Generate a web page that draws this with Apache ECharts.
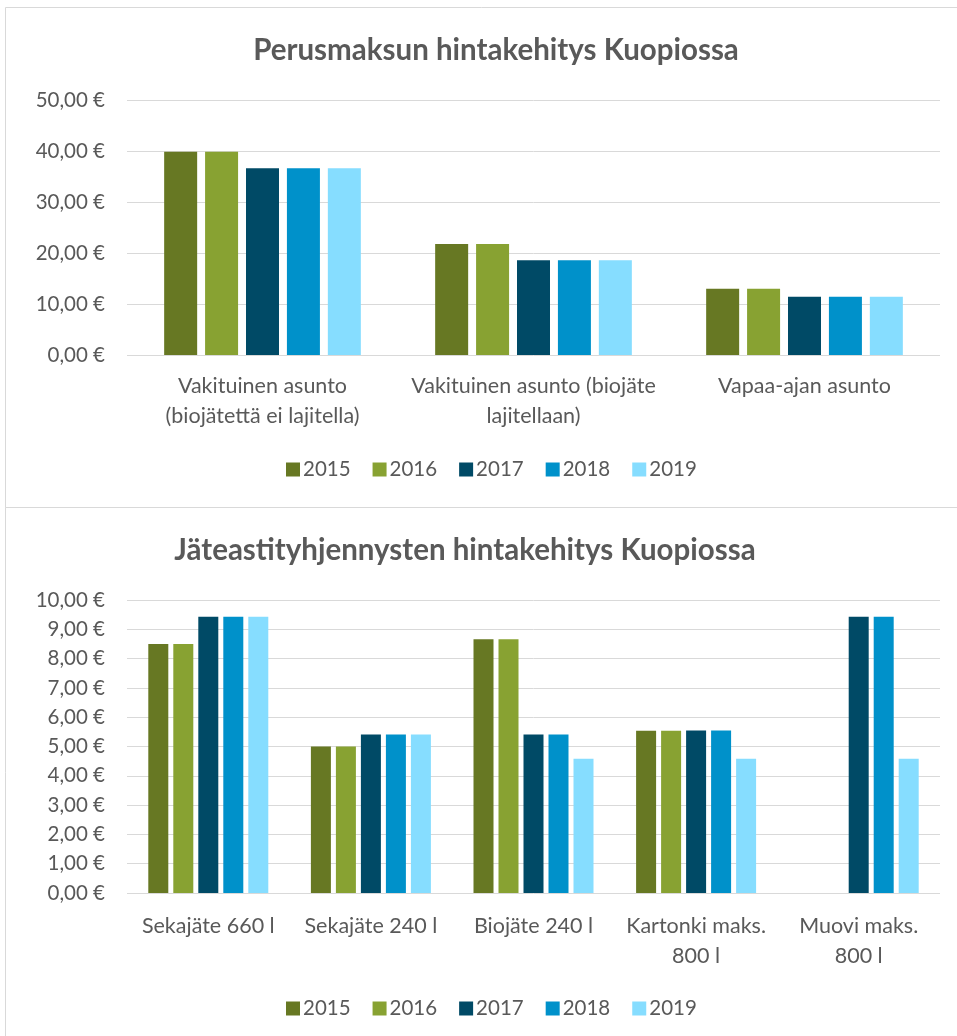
<!DOCTYPE html>
<html><head><meta charset="utf-8">
<script src="https://cdn.jsdelivr.net/npm/echarts@6/dist/echarts.min.js"></script>
<style>html,body{margin:0;padding:0;background:#fff}#c{width:957px;height:1036px}</style>
</head><body><div id="c"></div>
<script>
const years = ['2015','2016','2017','2018','2019'];
const colors = ['#677823','#88A232','#004A66','#0091CA','#86DDFF'];

const cats1 = ['Vakituinen asunto\n(biojätettä ei lajitella)', 'Vakituinen asunto (biojäte\nlajitellaan)', 'Vapaa-ajan asunto'];
const v1_2015 = [39.84, 21.76, 13.0];
const v1_2016 = [39.84, 21.76, 13.0];
const v1_2017 = [36.6, 18.6, 11.4];
const v1_2018 = [36.6, 18.6, 11.4];
const v1_2019 = [36.6, 18.6, 11.4];

const cats2 = ['Sekajäte 660 l', 'Sekajäte 240 l', 'Biojäte 240 l', 'Kartonki maks.\n800 l', 'Muovi maks.\n800 l'];
const v2_2015 = [8.50, 5.00, 8.66, 5.54, null];
const v2_2016 = [8.50, 5.00, 8.66, 5.54, null];
const v2_2017 = [9.43, 5.41, 5.41, 5.55, 9.43];
const v2_2018 = [9.43, 5.41, 5.41, 5.55, 9.43];
const v2_2019 = [9.43, 5.41, 4.58, 4.58, 4.58];

const title1 = 'Perusmaksun hintakehitys Kuopiossa';
const title2 = 'Jäteastityhjennysten hintakehitys Kuopiossa';

const FONT = 'Lato';
const TXT = '#595959';
const fmt = v => v.toFixed(2).replace('.', ',') + ' €';

const d1 = [v1_2015, v1_2016, v1_2017, v1_2018, v1_2019];
const d2 = [v2_2015, v2_2016, v2_2017, v2_2018, v2_2019];

const series = [];
years.forEach((y, i) => {
  series.push({type:'bar', name:y, xAxisIndex:0, yAxisIndex:0, data:d1[i], barWidth:33, barGap:'24%',
    itemStyle:{color:colors[i]}, animation:false});
});
years.forEach((y, i) => {
  series.push({type:'bar', name:y, xAxisIndex:1, yAxisIndex:1, data:d2[i], barWidth:20, barGap:'25%',
    itemStyle:{color:colors[i]}, animation:false});
});

const axisCommon = {
  axisLine:{show:false}, axisTick:{show:false},
  splitLine:{lineStyle:{color:'#d9d9d9', width:1}}
};

const chart = echarts.init(document.getElementById('c'), null, {renderer:'canvas'});
chart.setOption({
  animation:false,
  color: colors,
  graphic:[
    {type:'rect', shape:{x:5.5, y:7.5, width:970, height:500}, style:{fill:'none', stroke:'#d9d9d9', lineWidth:1}, silent:true},
    {type:'rect', shape:{x:5.5, y:507.5, width:970, height:540}, style:{fill:'none', stroke:'#d9d9d9', lineWidth:1}, silent:true}
  ],
  title:[
    {text:title1, left:491, top:30, textAlign:'center', textStyle:{fontFamily:FONT, fontSize:29.5, fontWeight:'bold', color:TXT}},
    {text:title2, left:460, top:530, textAlign:'center', textStyle:{fontFamily:FONT, fontSize:29.5, fontWeight:'bold', color:TXT}}
  ],
  legend:[
    {data:years, left:281, top:454, itemWidth:14, itemHeight:14, itemGap:22, icon:'rect',
      textStyle:{fontFamily:FONT, fontSize:20.5, color:TXT, padding:[0,0,0,-2]}},
    {data:years, left:281, top:993, itemWidth:14, itemHeight:14, itemGap:22, icon:'rect',
      textStyle:{fontFamily:FONT, fontSize:20.5, color:TXT, padding:[0,0,0,-2]}}
  ],
  grid:[
    {left:127, right:17, top:100, height:255, containLabel:false},
    {left:127, right:17, top:600, height:293, containLabel:false}
  ],
  xAxis:[
    Object.assign({type:'category', gridIndex:0, data:cats1,
      axisLabel:{fontFamily:FONT, fontSize:21.5, color:TXT, lineHeight:30, margin:16, interval:0}}, axisCommon, {splitLine:{show:false}, axisLine:{show:false}}),
    Object.assign({type:'category', gridIndex:1, data:cats2,
      axisLabel:{fontFamily:FONT, fontSize:21.5, color:TXT, lineHeight:30, margin:18, interval:0}}, axisCommon, {splitLine:{show:false}, axisLine:{show:false}})
  ],
  yAxis:[
    Object.assign({type:'value', gridIndex:0, min:0, max:50, interval:10,
      axisLabel:{fontFamily:FONT, fontSize:20.5, color:TXT, margin:22, formatter:fmt}}, axisCommon),
    Object.assign({type:'value', gridIndex:1, min:0, max:10, interval:1,
      axisLabel:{fontFamily:FONT, fontSize:20.5, color:TXT, margin:22, formatter:fmt}}, axisCommon)
  ],
  series: series
});
</script>
</body></html>
